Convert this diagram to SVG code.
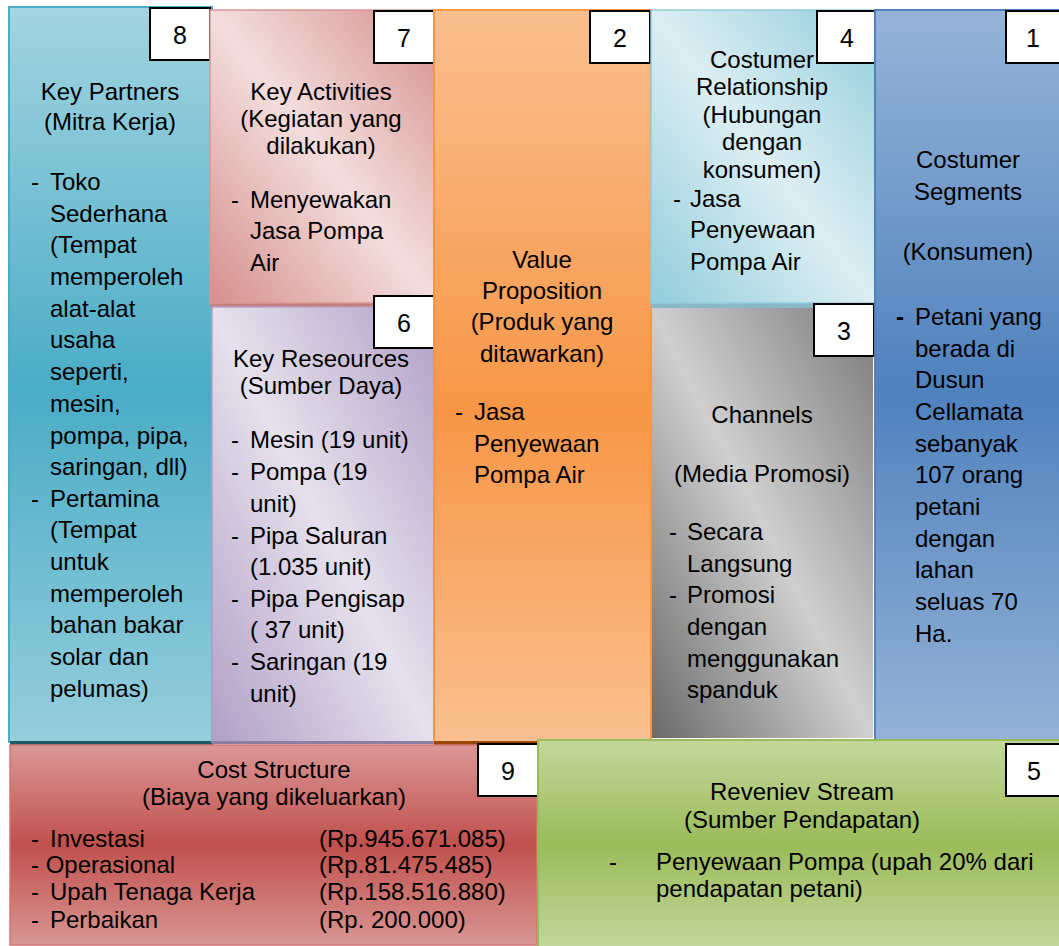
<svg xmlns="http://www.w3.org/2000/svg" width="1059" height="946" viewBox="0 0 1059 946">
<style>
text{font-family:"Liberation Sans",Arial,sans-serif;font-size:24px;fill:#000}
.c{text-anchor:middle}
.num{font-size:25px;text-anchor:middle}
.nb{fill:#fff;stroke:#000;stroke-width:2}
</style>
<defs>
<linearGradient id="gKP" x1="0" y1="0" x2="0" y2="1"><stop offset="0" stop-color="#a3d4e1"/><stop offset="0.52" stop-color="#4aacc6"/><stop offset="1" stop-color="#96cedc"/></linearGradient>
<linearGradient id="gKA" x1="1" y1="0" x2="0" y2="1"><stop offset="0" stop-color="#d68f8d"/><stop offset="0.5" stop-color="#f3dedd"/><stop offset="1" stop-color="#d68f8d"/></linearGradient>
<linearGradient id="gKR" x1="1" y1="0" x2="0" y2="1"><stop offset="0" stop-color="#b19fc6"/><stop offset="0.5" stop-color="#e6e1ed"/><stop offset="1" stop-color="#b19fc6"/></linearGradient>
<linearGradient id="gVP" x1="0" y1="0" x2="0" y2="1"><stop offset="0" stop-color="#fabf8f"/><stop offset="0.55" stop-color="#f79646"/><stop offset="1" stop-color="#fac090"/></linearGradient>
<linearGradient id="gCR" x1="1" y1="0" x2="0" y2="1"><stop offset="0" stop-color="#92cddc"/><stop offset="0.5" stop-color="#dceef3"/><stop offset="1" stop-color="#92cddc"/></linearGradient>
<linearGradient id="gCH" x1="1" y1="0" x2="0" y2="1"><stop offset="0" stop-color="#7a7a7a"/><stop offset="0.5" stop-color="#cfcfcf"/><stop offset="1" stop-color="#6a6a6a"/></linearGradient>
<linearGradient id="gCS" x1="0" y1="0" x2="0" y2="1"><stop offset="0" stop-color="#96b4d8"/><stop offset="0.52" stop-color="#4f81bd"/><stop offset="1" stop-color="#95b3d7"/></linearGradient>
<linearGradient id="gCO" x1="0" y1="0" x2="0" y2="1"><stop offset="0" stop-color="#da9796"/><stop offset="0.5" stop-color="#c0504d"/><stop offset="1" stop-color="#d99694"/></linearGradient>
<linearGradient id="gRV" x1="0" y1="0" x2="0" y2="1"><stop offset="0" stop-color="#c4d79c"/><stop offset="0.5" stop-color="#9bbb59"/><stop offset="1" stop-color="#c3d69b"/></linearGradient>
</defs>
<rect width="1059" height="946" fill="#fff"/>

<g id="key-partners">
<rect x="9" y="7" width="203" height="735" fill="url(#gKP)" stroke="#4bacc6" stroke-width="2"/>
<rect x="10" y="741" width="203" height="4" fill="#215968"/>
<rect class="nb" x="150" y="8" width="60" height="52"/>
<text class="num" x="180" y="44">8</text>
<text class="c" x="110" y="100">Key Partners</text>
<text class="c" x="110" y="130">(Mitra Kerja)</text>
<text x="31" y="190">-</text>
<text x="50" y="190">Toko</text>
<text x="50" y="222">Sederhana</text>
<text x="50" y="253">(Tempat</text>
<text x="50" y="285">memperoleh</text>
<text x="50" y="317">alat-alat</text>
<text x="50" y="348">usaha</text>
<text x="50" y="380">seperti,</text>
<text x="50" y="412">mesin,</text>
<text x="50" y="444">pompa, pipa,</text>
<text x="50" y="475">saringan, dll)</text>
<text x="31" y="507">-</text>
<text x="50" y="507">Pertamina</text>
<text x="50" y="538">(Tempat</text>
<text x="50" y="570">untuk</text>
<text x="50" y="602">memperoleh</text>
<text x="50" y="633">bahan bakar</text>
<text x="50" y="665">solar dan</text>
<text x="50" y="697">pelumas)</text>
</g>

<g id="key-activities">
<rect x="210" y="303" width="225" height="5" fill="#c77d7b"/>
<rect x="210" y="10" width="225" height="293" fill="url(#gKA)" stroke="#d99694" stroke-width="1.5"/>
<rect class="nb" x="374" y="11" width="60" height="52"/>
<text class="num" x="404" y="47">7</text>
<text class="c" x="321" y="100">Key Activities</text>
<text class="c" x="321" y="127">(Kegiatan yang</text>
<text class="c" x="321" y="154">dilakukan)</text>
<text x="231" y="208">-</text>
<text x="250" y="208">Menyewakan</text>
<text x="250" y="239">Jasa Pompa</text>
<text x="250" y="271">Air</text>
</g>

<g id="key-resources">
<rect x="212" y="307" width="222" height="435" fill="url(#gKR)" stroke="#b3a2c7" stroke-width="1.5"/>
<rect x="212" y="741" width="222" height="3" fill="#8c7ea0"/>
<rect class="nb" x="374" y="296" width="60" height="52"/>
<text class="num" x="404" y="332">6</text>
<text class="c" x="321" y="367">Key Reseources</text>
<text class="c" x="321" y="394">(Sumber Daya)</text>
<text x="231" y="448">-</text><text x="250" y="448">Mesin (19 unit)</text>
<text x="231" y="480">-</text><text x="250" y="480">Pompa (19</text>
<text x="250" y="512">unit)</text>
<text x="231" y="544">-</text><text x="250" y="544">Pipa Saluran</text>
<text x="250" y="575">(1.035 unit)</text>
<text x="231" y="607">-</text><text x="250" y="607">Pipa Pengisap</text>
<text x="250" y="638">( 37 unit)</text>
<text x="231" y="670">-</text><text x="250" y="670">Saringan (19</text>
<text x="250" y="702">unit)</text>
</g>

<g id="value-proposition">
<rect x="434" y="10" width="217" height="732" fill="url(#gVP)" stroke="#f79646" stroke-width="2"/>
<rect x="434" y="741" width="218" height="4" fill="#984807"/>
<rect class="nb" x="590" y="11" width="60" height="52"/>
<text class="num" x="620" y="47">2</text>
<text class="c" x="542" y="268">Value</text>
<text class="c" x="542" y="299">Proposition</text>
<text class="c" x="542" y="330">(Produk yang</text>
<text class="c" x="542" y="362">ditawarkan)</text>
<text x="455" y="420">-</text>
<text x="474" y="420">Jasa</text>
<text x="474" y="452">Penyewaan</text>
<text x="474" y="483">Pompa Air</text>
</g>

<g id="customer-relationship">
<rect x="651" y="303" width="224" height="5" fill="#8db7c6"/>
<rect x="651" y="10" width="224" height="293" fill="url(#gCR)" stroke="#92cddc" stroke-width="1.5"/>
<rect class="nb" x="817" y="11" width="60" height="52"/>
<text class="num" x="847" y="47">4</text>
<text class="c" x="762" y="68">Costumer</text>
<text class="c" x="762" y="95">Relationship</text>
<text class="c" x="762" y="123">(Hubungan</text>
<text class="c" x="762" y="150">dengan</text>
<text class="c" x="762" y="178">konsumen)</text>
<text x="673" y="207">-</text>
<text x="690" y="207">Jasa</text>
<text x="690" y="238">Penyewaan</text>
<text x="690" y="270">Pompa Air</text>
</g>

<g id="channels">
<rect x="652" y="308" width="221" height="430" fill="url(#gCH)"/>
<rect class="nb" x="814" y="304" width="60" height="52"/>
<text class="num" x="844" y="340">3</text>
<text class="c" x="762" y="423">Channels</text>
<text class="c" x="762" y="482">(Media Promosi)</text>
<text x="669" y="540">-</text><text x="687" y="540">Secara</text>
<text x="687" y="572">Langsung</text>
<text x="669" y="603">-</text><text x="687" y="603">Promosi</text>
<text x="687" y="635">dengan</text>
<text x="687" y="667">menggunakan</text>
<text x="687" y="698">spanduk</text>
</g>

<g id="customer-segments">
<rect x="875" y="10" width="186" height="733" fill="url(#gCS)" stroke="#4f81bd" stroke-width="2"/>
<rect x="876" y="742" width="185" height="4" fill="#243f60"/>
<rect class="nb" x="1006" y="11" width="56" height="52"/>
<text class="num" x="1033" y="47">1</text>
<text class="c" x="968" y="168">Costumer</text>
<text class="c" x="968" y="200">Segments</text>
<text class="c" x="968" y="260">(Konsumen)</text>
<text x="896" y="325" style="font-weight:bold">-</text>
<text x="915" y="325">Petani yang</text>
<text x="915" y="357">berada di</text>
<text x="915" y="388">Dusun</text>
<text x="915" y="420">Cellamata</text>
<text x="915" y="452">sebanyak</text>
<text x="915" y="483">107 orang</text>
<text x="915" y="515">petani</text>
<text x="915" y="547">dengan</text>
<text x="915" y="578">lahan</text>
<text x="915" y="610">seluas 70</text>
<text x="915" y="642">Ha.</text>
</g>

<g id="cost-structure">
<rect x="10" y="745" width="527" height="200" fill="url(#gCO)" stroke="#d07573" stroke-width="1.5"/>
<rect class="nb" x="478" y="744" width="60" height="52"/>
<text class="num" x="508" y="780">9</text>
<text class="c" x="274" y="778">Cost Structure</text>
<text class="c" x="274" y="805">(Biaya yang dikeluarkan)</text>
<text x="31" y="847">-</text><text x="50" y="847">Investasi</text>
<text x="31" y="873">- Operasional</text>
<text x="31" y="900">-</text><text x="50" y="900">Upah Tenaga Kerja</text>
<text x="31" y="928">-</text><text x="50" y="928">Perbaikan</text>
<text x="319" y="847">(Rp.945.671.085)</text>
<text x="319" y="873">(Rp.81.475.485)</text>
<text x="319" y="900">(Rp.158.516.880)</text>
<text x="319" y="928">(Rp. 200.000)</text>
</g>

<g id="revenue-stream">
<rect x="538" y="740" width="523" height="208" fill="url(#gRV)" stroke="#9bbb59" stroke-width="2"/>
<rect class="nb" x="1006" y="744" width="56" height="52"/>
<text class="num" x="1034" y="780">5</text>
<text class="c" x="802" y="800">Reveniev Stream</text>
<text class="c" x="802" y="828">(Sumber Pendapatan)</text>
<text x="609" y="870">-</text>
<text x="656" y="870">Penyewaan Pompa (upah 20% dari</text>
<text x="656" y="897">pendapatan petani)</text>
</g>
<g id="connectors"></g>
</svg>
